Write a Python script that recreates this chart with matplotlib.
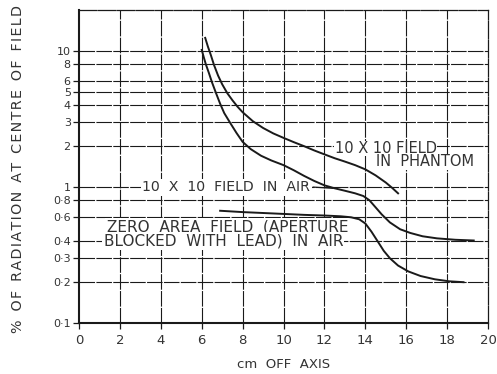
import numpy as np
import matplotlib
matplotlib.use("Agg")
import matplotlib.pyplot as plt

# curves (cm off axis, % of centre)
phantom_x = [6.17, 6.3, 6.45, 6.6, 6.8, 7.0, 7.25, 7.5, 7.75, 8.0, 8.5, 9.0, 9.5, 10.0,
             10.5, 11.0, 11.5, 12.0, 12.5, 13.0, 13.5, 14.0, 14.5, 15.0, 15.3, 15.6]
phantom_y = [12.5, 10.8, 9.3, 7.9, 6.6, 5.7, 4.9, 4.35, 3.9, 3.55, 3.05, 2.72, 2.48, 2.3,
             2.14, 2.0, 1.86, 1.74, 1.63, 1.54, 1.45, 1.35, 1.22, 1.08, 0.99, 0.9]

air_x = [6.0, 6.1, 6.2, 6.35, 6.5, 6.7, 6.9, 7.1, 7.4, 7.7, 8.0, 8.4, 8.9, 9.4, 10.0,
         10.5, 11.0, 11.5, 12.0, 12.5, 13.0, 13.5, 13.9, 14.2, 14.5, 14.8, 15.2, 15.7,
         16.2, 16.8, 17.5, 18.4, 19.3]
air_y = [10.2, 9.0, 8.0, 6.9, 5.9, 4.9, 4.1, 3.5, 2.95, 2.5, 2.15, 1.9, 1.7, 1.57, 1.45,
         1.33, 1.21, 1.11, 1.03, 0.98, 0.94, 0.90, 0.86, 0.80, 0.71, 0.63, 0.55, 0.49,
         0.46, 0.435, 0.42, 0.41, 0.405]

zero_x = [6.9, 8.0, 9.0, 10.0, 11.0, 12.0, 12.8, 13.3, 13.7, 14.0, 14.3, 14.6, 14.9,
          15.2, 15.6, 16.1, 16.7, 17.4, 18.1, 18.8]
zero_y = [0.67, 0.655, 0.645, 0.635, 0.625, 0.618, 0.61, 0.60, 0.58, 0.54, 0.47, 0.40,
          0.34, 0.30, 0.265, 0.24, 0.222, 0.21, 0.203, 0.20]

x_ticks = list(range(0, 21, 2))
y_ticks = [0.1, 0.2, 0.3, 0.4, 0.6, 0.8, 1, 2, 3, 4, 5, 6, 8, 10]
y_labels = ["0·1", "0·2", "0·3", "0·4", "0·6", "0·8", "1", "2", "3", "4", "5", "6", "8", "10"]

ink = "#1a1a1a"
txt = "#333333"
grid_ls = (0, (14, 1.2))

fig = plt.figure(figsize=(4.97, 3.74), dpi=100)
ax = fig.add_axes([0.159, 0.136, 0.823, 0.837])

ax.set_yscale("log")
ax.set_xlim(0, 20)
ax.set_ylim(0.1, 20)

# graph-paper grid
for gx in x_ticks[1:-1]:
    ax.axvline(gx, color=ink, lw=0.8, ls=grid_ls, zorder=1)
for gy in y_ticks[1:]:
    ax.axhline(gy, color=ink, lw=0.8, ls=grid_ls, zorder=1)

ax.set_xticks(x_ticks)
ax.set_xticklabels([str(t) for t in x_ticks])
ax.set_yticks(y_ticks)
ax.set_yticklabels(y_labels)
ax.yaxis.set_minor_locator(matplotlib.ticker.NullLocator())
ax.tick_params(axis="both", direction="out", length=4, width=0.9, color=ink,
               labelcolor=txt)
ax.tick_params(axis="x", pad=4, labelsize=9.5)
ax.tick_params(axis="y", pad=2, labelsize=8)

for side in ["left", "bottom"]:
    ax.spines[side].set_linewidth(1.5)
    ax.spines[side].set_color(ink)
for side in ["top", "right"]:
    ax.spines[side].set_linewidth(0.9)
    ax.spines[side].set_color(ink)
    ax.spines[side].set_linestyle(grid_ls)

ax.plot(phantom_x, phantom_y, color=ink, lw=1.4, zorder=3)
ax.plot(air_x, air_y, color=ink, lw=1.4, zorder=3)
ax.plot(zero_x, zero_y, color=ink, lw=1.4, zorder=3)

box = dict(facecolor="white", edgecolor="none", pad=1.0)
ax.text(3.1, 1.0, "10  X  10  FIELD  IN  AIR", fontsize=10.2, color=txt,
        va="center", ha="left", bbox=box, zorder=2)
ax.plot([11.45, 12.4], [1.0, 0.98], color=ink, lw=0.9, zorder=3)

ax.text(12.5, 1.92, "10 X 10 FIELD", fontsize=10.5, color=txt,
        va="center", ha="left", zorder=2,
        bbox=dict(facecolor="white", edgecolor="none", pad=0.3))
ax.text(14.5, 1.53, "IN  PHANTOM", fontsize=10.5, color=txt,
        va="center", ha="left", zorder=2,
        bbox=dict(facecolor="white", edgecolor="none", pad=0.3))

ax.text(1.35, 0.51, "ZERO  AREA  FIELD  (APERTURE", fontsize=11, color=txt,
        va="center", ha="left", bbox=box, zorder=2)
ax.text(1.2, 0.4, "BLOCKED  WITH  LEAD)  IN  AIR", fontsize=11, color=txt,
        va="center", ha="left", bbox=box, zorder=2)

ax.set_xlabel("cm  OFF  AXIS", fontsize=9.5, color=txt, labelpad=8)
# letter-spaced inside words, wider gaps between words
ylab = "  ".join("\u200a".join(w) for w in "% OF RADIATION AT CENTRE OF FIELD".split())
fig.text(0.036, 0.548, ylab, rotation=90,
         fontsize=10.3, color=txt, ha="center", va="center")

fig.savefig("out.png", dpi=100)
